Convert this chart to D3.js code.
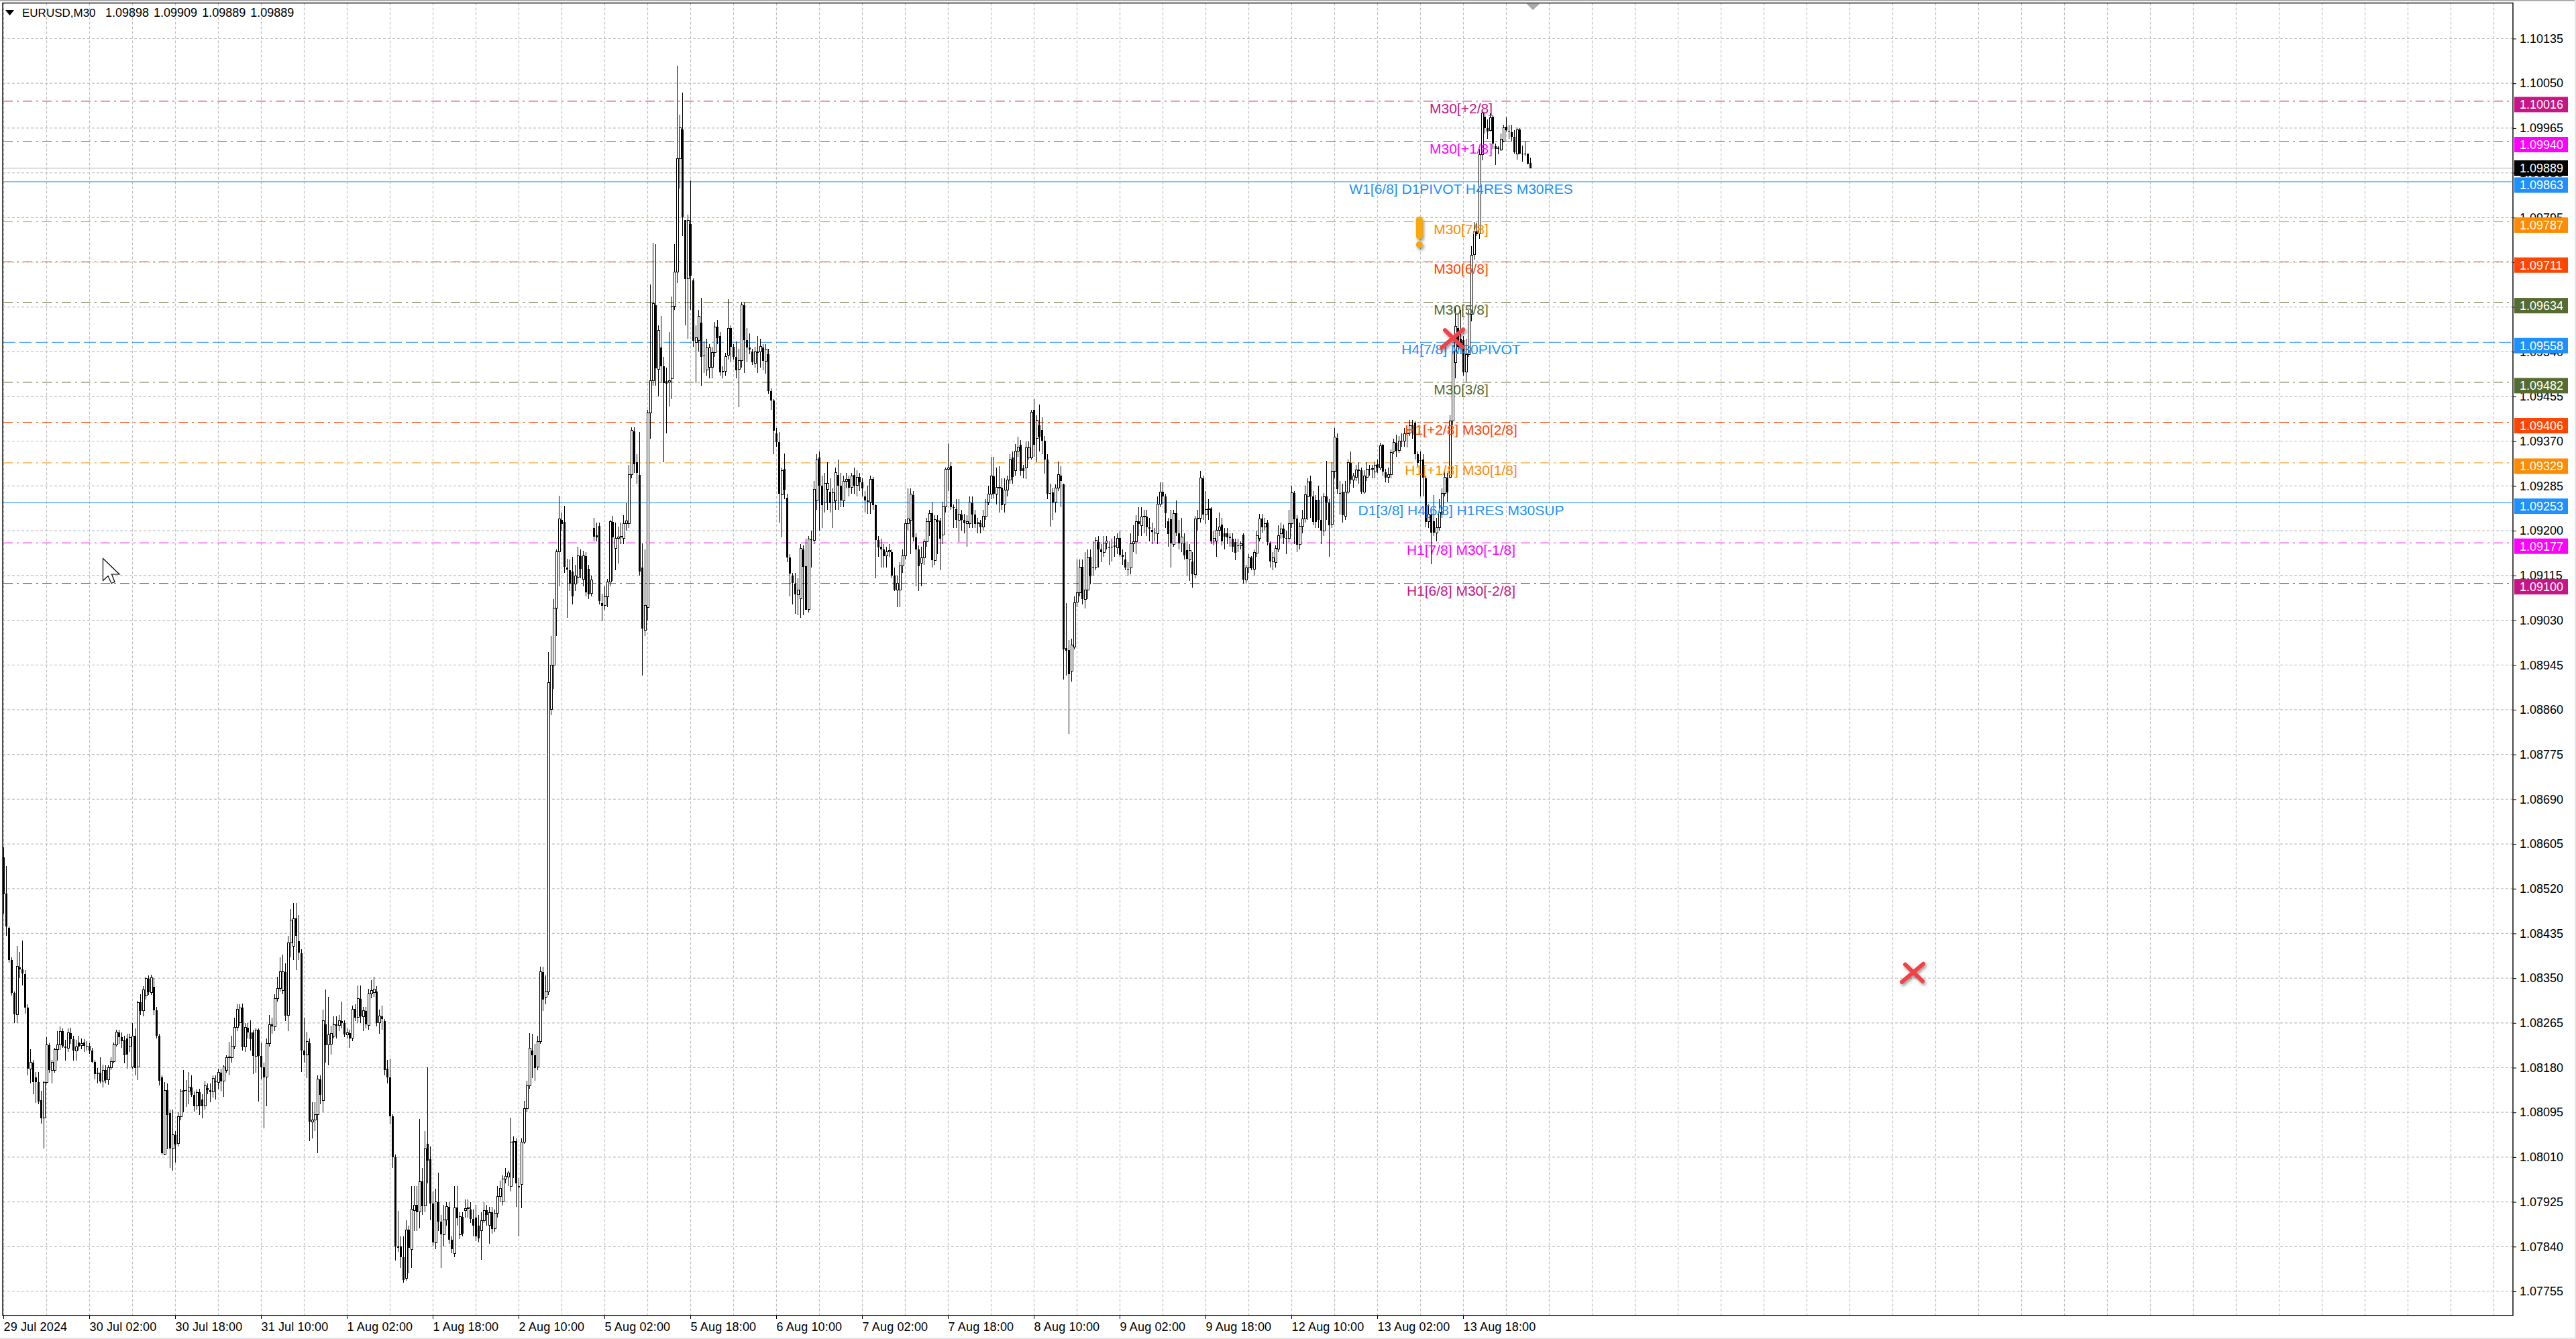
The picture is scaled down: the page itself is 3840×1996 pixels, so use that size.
<!DOCTYPE html>
<html>
<head>
<meta charset="utf-8">
<script src="https://cdn.jsdelivr.net/npm/d3@7"></script>
<style>
html, body { margin: 0; padding: 0; background: #fff; }
svg { display: block; }
text { font-family: "Liberation Sans", sans-serif; }
</style>
</head>
<body>
<script>
// M30 candles, prices in 1e-5 units
let opens = [
108579,108511,108446,108385,108322,108281,108370,108367,108358,108294,
108178,108190,108162,108152,108118,108084,108152,108223,108175,108175,
108215,108223,108250,108220,108217,108246,108234,108212,108228,108222,
108228,108221,108221,108212,108191,108171,108171,108154,108175,108157,
108180,108191,108223,108247,108238,108233,108235,108221,108181,108240,
108181,108304,108288,108317,108349,108323,108333,108289,108241,108162,
108016,108137,108094,108026,108052,108036,108087,108135,108137,108136,
108143,108129,108107,108133,108120,108107,108141,108137,108134,108154,
108152,108171,108155,108175,108199,108199,108221,108257,108265,108294,
108219,108256,108247,108247,108202,108252,108202,108181,108162,108226,
108262,108258,108311,108330,108327,108362,108279,108417,108411,108463,
108420,108397,108213,108204,108227,108077,108080,108091,108158,108118,
108262,108223,108225,108240,108262,108260,108269,108265,108243,108246,
108236,108291,108275,108311,108277,108288,108260,108320,108323,108325,
108265,108278,108268,108178,108162,108087,108010,107841,107840,107820,
107780,107872,107835,107909,107919,107906,107964,107917,108036,108006,
107922,107848,107925,107887,107863,107891,107916,107853,107827,107914,
107863,107897,107908,107912,107910,107893,107895,107880,107870,107890,
107909,107880,107905,107874,107903,107935,107925,107969,107972,107955,
108039,108040,107955,107958,108039,108102,108146,108213,108204,108181,
108230,108362,108314,108324,108860,108945,109053,109160,109221,109217,
109130,109125,109123,109099,109111,109152,109108,109152,109127,109081,
109205,109191,109209,109062,109058,109075,109103,109217,109166,109186,
109188,109185,109213,109214,109306,109389,109330,109306,109130,109011,
109054,109424,109485,109629,109507,109548,109512,109485,109483,109489,
109627,109692,109907,109962,109790,109679,109783,109676,109558,109562,
109595,109533,109505,109510,109510,109538,109587,109570,109504,109503,
109534,109585,109550,109530,109507,109523,109629,109562,109548,109540,
109518,109540,109540,109548,109522,109535,109465,109448,109385,109369,
109268,109318,109263,109149,109115,109099,109079,109071,109164,109133,
109050,109184,109182,109257,109339,109286,109253,109278,109274,109253,
109257,109306,109286,109257,109294,109298,109282,109306,109286,109302,
109292,109265,109257,109255,109298,109249,109182,109170,109164,109152,
109160,109160,109115,109087,109087,109133,109152,109213,109220,109268,
109187,109164,109138,109148,109179,109217,109233,109144,109221,109219,
109192,109245,109317,109323,109245,109241,109220,109231,109220,109214,
109214,109253,109231,109213,109214,109207,109228,109255,109270,109304,
109270,109282,109282,109250,109277,109296,109339,109314,109351,109363,
109319,109319,109339,109339,109430,109375,109400,109391,109371,109335,
109272,109273,109254,109281,109305,109288,108977,108973,108933,108979,
109064,109082,109131,109070,109088,109150,109131,109131,109179,109164,
109159,109176,109168,109170,109172,109168,109186,109154,109145,109128,
109130,109175,109179,109218,109210,109226,109227,109207,109202,109197,
109195,109251,109274,109265,109218,109222,109174,109233,109195,109176,
109176,109163,109145,109141,109117,109223,109224,109300,109230,109240,
109242,109180,109180,109201,109212,109195,109195,109189,109185,109178,
109172,109172,109192,109107,109129,109149,109127,109158,109185,109223,
109207,109215,109176,109141,109140,109165,109194,109204,109186,109185,
109213,109271,109223,109174,109208,109222,109265,109294,109265,109259,
109259,109220,109200,109265,109254,109212,109313,109376,109272,109274,
109228,109274,109329,109297,109302,109316,109315,109273,109302,109318,
109317,109312,109326,109320,109363,109311,109301,109307,109350,109367,
109352,109371,109370,109384,109385,109400,109405,109345,109334,109335,
109300,109218,109231,109218,109196,109206,109231,109271,109301,109301,
109409,109520,109585,109565,109562,109501,109535,109611,109724,109768,
109766,109914,109986,109965,109960,109987,109931,109928,109923,109940,
109967,109960,109957,109948,109916,109962,109916,109916,109916,109898
]

let highs = [
108599,108563,108448,108390,108325,108411,108400,108421,108365,108300,
108215,108195,108172,108172,108136,108155,108238,108226,108195,108218,
108249,108259,108255,108233,108254,108256,108240,108233,108240,108236,
108234,108230,108226,108217,108195,108180,108200,108186,108185,108185,
108200,108228,108252,108252,108247,108240,108245,108245,108265,108255,
108307,108320,108335,108352,108355,108356,108350,108295,108245,108165,
108152,108150,108100,108100,108060,108095,108140,108175,108157,108172,
108165,108135,108138,108140,108130,108155,108150,108150,108165,108165,
108178,108178,108184,108204,108229,108240,108275,108300,108300,108302,
108265,108265,108270,108252,108255,108255,108226,108190,108235,108280,
108275,108320,108353,108390,108395,108378,108430,108482,108493,108493,
108470,108405,108275,108248,108235,108115,108115,108165,108165,108290,
108328,108315,108260,108277,108277,108280,108305,108270,108255,108252,
108298,108300,108336,108336,108295,108295,108330,108346,108353,108335,
108290,108298,108272,108195,108197,108092,108015,107908,107859,107860,
107890,107880,107955,107955,107955,108083,107990,108060,108181,108030,
107945,107950,107980,107900,107920,107925,107925,107860,107955,107955,
107905,107905,107930,107930,107925,107910,107920,107900,107905,107925,
107920,107915,107915,107910,107955,107965,107975,107990,107985,108085,
108050,108045,107970,108045,108117,108155,108246,108245,108225,108240,
108372,108372,108355,108970,109000,109070,109165,109266,109235,109247,
109147,109145,109150,109135,109170,109165,109162,109160,109135,109115,
109225,109215,109215,109080,109095,109108,109221,109228,109215,109208,
109215,109230,109253,109325,109396,109396,109345,109388,109176,109165,
109430,109668,109747,109745,109590,109608,109530,109510,109578,109645,
109745,110084,109990,110032,109790,109800,109865,109680,109590,109620,
109642,109560,109565,109555,109550,109597,109600,109578,109512,109538,
109640,109590,109555,109560,109545,109635,109633,109585,109575,109545,
109550,109570,109565,109555,109555,109545,109470,109450,109395,109387,
109320,109347,109270,109155,109120,109120,109110,109175,109172,109185,
109190,109200,109295,109345,109350,109305,109310,109330,109300,109280,
109320,109335,109310,109305,109310,109305,109310,109320,109315,109310,
109300,109275,109285,109305,109302,109250,109190,109185,109175,109170,
109175,109165,109130,109115,109140,109165,109222,109280,109280,109275,
109195,109172,109170,109185,109225,109240,109255,109230,109230,109225,
109255,109320,109366,109330,109250,109260,109260,109240,109232,109230,
109265,109265,109240,109225,109220,109240,109260,109285,109340,109340,
109320,109322,109300,109300,109305,109345,109350,109365,109378,109372,
109325,109370,109370,109430,109450,109420,109440,109415,109380,109345,
109290,109282,109288,109332,109322,109290,109063,108992,108995,109075,
109145,109146,109145,109160,109164,109165,109180,109188,109190,109175,
109190,109190,109180,109185,109190,109195,109200,109165,109160,109140,
109195,109210,109230,109245,109245,109240,109240,109225,109215,109205,
109265,109292,109292,109270,109225,109240,109240,109258,109220,109225,
109195,109180,109175,109160,109228,109240,109313,109305,109275,109260,
109245,109200,109225,109235,109225,109205,109205,109195,109195,109185,
109185,109180,109195,109135,109155,109152,109165,109200,109232,109232,
109225,109220,109180,109160,109172,109210,109215,109212,109200,109240,
109285,109275,109230,109215,109240,109285,109300,109305,109275,109268,
109285,109265,109272,109333,109260,109330,109395,109385,109295,109290,
109295,109335,109350,109310,109325,109330,109320,109315,109330,109325,
109325,109332,109335,109367,109365,109318,109320,109355,109375,109382,
109380,109385,109395,109395,109410,109410,109408,109350,109350,109345,
109305,109250,109245,109268,109225,109260,109280,109315,109310,109420,
109550,109625,109610,109619,109570,109565,109620,109740,109786,109785,
109925,110000,109993,109982,109993,109990,109935,109931,109955,109971,
109985,109971,109971,109961,109966,109965,109932,109939,109916,109909
]

let lows = [
108472,108430,108379,108317,108265,108265,108350,108336,108283,108165,
108150,108130,108113,108111,108074,108026,108150,108170,108150,108170,
108194,108214,108218,108194,108210,108225,108194,108194,108212,108215,
108210,108212,108206,108190,108158,108150,108150,108143,108150,108147,
108175,108188,108220,108225,108217,108188,108178,108210,108178,108165,
108156,108280,108278,108310,108318,108318,108280,108235,108146,108015,
108014,108025,107990,107984,108000,108030,108080,108095,108105,108110,
108125,108097,108100,108090,108084,108100,108130,108115,108123,108120,
108140,108135,108125,108170,108165,108190,108215,108250,108260,108212,
108210,108235,108213,108168,108170,108116,108158,108065,108107,108220,
108245,108250,108305,108325,108320,108268,108250,108390,108385,108365,
108385,108172,108190,108160,108040,108045,108060,108017,108110,108095,
108190,108185,108205,108235,108235,108250,108255,108238,108235,108217,
108230,108268,108265,108265,108250,108255,108252,108312,108315,108258,
108245,108252,108165,108150,108072,107990,107813,107830,107800,107772,
107775,107790,107800,107870,107870,107875,107900,107905,107960,107890,
107840,107835,107870,107800,107840,107880,107845,107828,107820,107880,
107855,107860,107895,107895,107885,107860,107850,107848,107815,107885,
107880,107845,107865,107868,107895,107925,107918,107960,107955,107945,
107970,107915,107860,107913,108035,108095,108140,108160,108155,108175,
108225,108288,108300,108318,108850,108900,109000,109095,109200,109120,
109034,109085,109060,109085,109100,109110,109095,109075,109070,109075,
109180,109180,109060,109028,109050,109055,109095,109105,109125,109138,
109175,109175,109200,109205,109300,109310,109290,109115,108925,109000,
109030,109375,109475,109475,109455,109480,109330,109385,109436,109450,
109620,109670,109850,109760,109590,109565,109620,109550,109480,109540,
109475,109500,109495,109490,109490,109530,109555,109495,109490,109495,
109525,109520,109525,109490,109435,109510,109500,109520,109535,109515,
109510,109500,109510,109505,109498,109460,109430,109345,109360,109215,
109188,109260,109140,109075,109060,109042,109040,109035,109040,109050,
109045,109130,109175,109240,109200,109205,109235,109240,109235,109205,
109240,109240,109245,109245,109280,109265,109270,109270,109265,109275,
109265,109235,109232,109232,109240,109110,109150,109130,109130,109130,
109150,109110,109085,109055,109055,109120,109145,109200,109155,109180,
109095,109085,109095,109135,109170,109190,109130,109135,109155,109125,
109175,109235,109275,109240,109205,109205,109178,109200,109195,109170,
109205,109205,109205,109195,109195,109200,109220,109248,109260,109262,
109250,109235,109240,109235,109265,109290,109290,109305,109340,109305,
109300,109298,109335,109335,109340,109330,109350,109345,109308,109260,
109208,109220,109235,109275,109245,108917,108925,108814,108913,108975,
109055,109075,109060,109052,109070,109098,109115,109125,109130,109140,
109150,109165,109135,109142,109150,109155,109150,109135,109125,109115,
109118,109160,109155,109190,109190,109195,109190,109180,109175,109180,
109175,109245,109250,109205,109170,109130,109170,109190,109165,109160,
109145,109115,109105,109092,109110,109200,109215,109220,109213,109220,
109175,109172,109150,109190,109172,109165,109175,109170,109160,109144,
109160,109165,109100,109100,109120,109125,109115,109150,109180,109197,
109200,109172,109130,109125,109130,109160,109185,109175,109156,109178,
109205,109175,109160,109165,109195,109215,109220,109225,109210,109205,
109205,109175,109190,109220,109151,109205,109300,109270,109231,109216,
109220,109270,109290,109282,109295,109290,109270,109270,109295,109305,
109300,109300,109310,109315,109305,109292,109291,109300,109345,109340,
109348,109360,109360,109358,109380,109375,109335,109322,109265,109265,
109207,109205,109137,109190,109180,109200,109225,109265,109255,109300,
109400,109490,109535,109535,109495,109483,109530,109598,109715,109760,
109755,109904,109955,109945,109958,109925,109895,109915,109922,109938,
109958,109944,109940,109916,109905,109915,109901,109912,109896,109889
]

let closes = [
108510,108448,108385,108322,108281,108372,108367,108359,108294,108178,
108190,108152,108152,108116,108084,108152,108223,108175,108190,108215,
108223,108249,108220,108217,108246,108234,108212,108219,108220,108226,
108222,108220,108212,108191,108168,108168,108154,108175,108157,108180,
108191,108223,108247,108238,108230,108204,108205,108238,108240,108180,
108304,108288,108328,108349,108323,108351,108289,108241,108155,108018,
108137,108090,108026,108052,108034,108087,108135,108137,108136,108143,
108129,108107,108133,108107,108107,108146,108137,108133,108160,108152,
108171,108154,108181,108199,108201,108221,108257,108291,108294,108219,
108256,108247,108234,108202,108252,108202,108181,108162,108226,108262,
108258,108311,108330,108362,108362,108279,108417,108460,108463,108430,
108398,108213,108204,108230,108077,108080,108091,108158,108128,108269,
108223,108242,108245,108262,108260,108269,108265,108243,108246,108236,
108291,108275,108311,108277,108288,108262,108320,108326,108329,108265,
108278,108272,108175,108162,108087,108010,107841,107838,107820,107777,
107872,107838,107911,107919,107906,107963,107917,108026,108003,107922,
107848,107925,107887,107863,107891,107916,107853,107835,107914,107894,
107897,107865,107912,107915,107893,107880,107860,107856,107890,107909,
107900,107905,107874,107903,107935,107950,107969,107973,107980,108039,
108040,107960,107953,108039,108102,108146,108217,108204,108180,108230,
108362,108310,108324,108912,108945,109053,109160,109222,109213,109131,
109126,109099,109075,109114,109152,109127,109153,109083,109079,109107,
109189,109187,109067,109058,109075,109103,109217,109188,109186,109188,
109190,109213,109219,109306,109391,109326,109310,109123,109014,109058,
109424,109485,109631,109509,109580,109513,109481,109479,109485,109627,
109692,109907,109966,109796,109678,109790,109684,109561,109566,109607,
109530,109531,109548,109548,109538,109587,109566,109501,109501,109531,
109585,109550,109530,109505,109523,109629,109562,109548,109544,109520,
109540,109538,109550,109522,109545,109465,109448,109390,109369,109270,
109314,109278,109149,109119,109101,109079,109088,109166,109131,109050,
109184,109182,109278,109335,109286,109249,109290,109290,109253,109272,
109310,109286,109257,109294,109298,109282,109304,109286,109302,109292,
109280,109257,109255,109298,109249,109182,109168,109164,109152,109160,
109163,109115,109088,109100,109133,109152,109213,109222,109270,109187,
109164,109133,109148,109179,109217,109233,109144,109221,109217,109185,
109245,109317,109320,109245,109243,109220,109231,109220,109214,109217,
109255,109231,109213,109216,109206,109228,109255,109270,109304,109270,
109282,109283,109249,109277,109296,109335,109302,109351,109359,109314,
109314,109357,109357,109425,109363,109410,109378,109371,109335,109270,
109270,109254,109281,109307,109295,108974,108972,108927,108983,109063,
109082,109131,109070,109088,109149,109113,109130,109182,109165,109159,
109176,109180,109167,109168,109170,109185,109154,109150,109130,109127,
109175,109179,109218,109213,109226,109228,109207,109204,109198,109195,
109251,109274,109265,109233,109194,109176,109233,109197,109176,109188,
109153,109147,109162,109117,109223,109224,109300,109231,109240,109242,
109180,109185,109201,109207,109180,109189,109188,109186,109170,109158,
109171,109175,109107,109130,109149,109129,109159,109191,109223,109207,
109213,109179,109142,109149,109166,109191,109204,109186,109185,109213,
109272,109222,109173,109208,109222,109268,109292,109265,109217,109217,
109220,109200,109265,109254,109210,109313,109378,109279,109271,109229,
109274,109330,109297,109304,109315,109314,109274,109304,109317,109316,
109318,109325,109320,109362,109312,109301,109307,109349,109368,109352,
109370,109370,109384,109385,109400,109399,109345,109329,109333,109301,
109217,109231,109197,109197,109206,109235,109271,109301,109273,109409,
109540,109588,109550,109550,109501,109535,109611,109723,109768,109764,
109914,109993,109965,109959,109984,109935,109925,109925,109944,109966,
109961,109958,109948,109919,109962,109916,109915,109915,109897,109889
]

let priceTicks = [
1.10135,1.10050,1.09965,1.09880,1.09795,1.09710,1.09625,1.09540,1.09455,1.09370,
1.09285,1.09200,1.09115,1.09030,1.08945,1.08860,1.08775,1.08690,1.08605,1.08520,
1.08435,1.08350,1.08265,1.08180,1.08095,1.08010,1.07925,1.07840,1.07755
]

let timeLabels = [
"29 Jul 2024","30 Jul 02:00","30 Jul 18:00","31 Jul 10:00","1 Aug 02:00","1 Aug 18:00",
"2 Aug 10:00","5 Aug 02:00","5 Aug 18:00","6 Aug 10:00","7 Aug 02:00","7 Aug 18:00",
"8 Aug 10:00","9 Aug 02:00","9 Aug 18:00","12 Aug 10:00","13 Aug 02:00","13 Aug 18:00"
]

let levelPrices = [1.10016,1.09940,1.09863,1.09787,1.09711,1.09634,1.09558,1.09482,1.09406,1.09329,1.09253,1.09177,1.09100]
let levelColors = ["#c71585","#ff00ff","#1e90ff","#ff8c00","#ff4500","#556b2f","#1e90ff","#556b2f","#ff4500","#ff8c00","#1e90ff","#ff00ff","#c71585"]
let levelKinds = ["dashdot","dashdot","solid","dashdot","dashdot","dashdot","dash","dashdot","dashdot","dashdot","solid","dashdot","dashdot"]
let levelLabels = [
"M30[+2/8]","M30[+1/8]","W1[6/8] D1PIVOT H4RES M30RES","M30[7/8]","M30[6/8]","M30[5/8]",
"H4[7/8] M30PIVOT","M30[3/8]","H1[+2/8] M30[2/8]","H1[+1/8] M30[1/8]",
"D1[3/8] H4[6/8] H1RES M30SUP","H1[7/8] M30[-1/8]","H1[6/8] M30[-2/8]"
]

let symbolName = "EURUSD,M30"
let lastBar = "1.09898 1.09909 1.09889 1.09889"
let bid = 1.09889
let gridBars = 16    // vertical grid every 16 bars
let labelBars = 32   // time label every 32 bars
let crossMarks = [{bar: 540, price: 1.09567}, {bar: 711.5, price: 1.08362}]
let alertMark = {bar: 527.7, price: 1.09797}

let w = 3840
let h = 1996
let frameL = 4
let frameT = 4.5
let frameR = 3746
let frameB = 1961
let dashes = {dashdot: "14 6 3 6", dash: "18 6", solid: null}

let candles = d3.range(closes.length).map(i => ({
    i: i, o: opens[i] / 1e5, h: highs[i] / 1e5, l: lows[i] / 1e5, c: closes[i] / 1e5
}))

// 4px a bar
let x = d3.scaleLinear().domain([0, 1]).range([5, 9])
let y = d3.scaleLinear().domain([1.10135, 1.07755]).range([57.5, 1925])

let svg = d3.select("body")
    .append("svg")
    .attr("width", w)
    .attr("height", h)

// window edges
svg.append("rect").attr("x", 0).attr("y", 0).attr("width", w).attr("height", 1.5).attr("fill", "#a0a0a0")
svg.append("rect").attr("x", 3838).attr("y", 0).attr("width", 2).attr("height", h).attr("fill", "#e4e4e4")
svg.append("rect").attr("x", 0).attr("y", 1994).attr("width", w).attr("height", 2).attr("fill", "#e4e4e4")

// grid
let gridX = d3.range(0, (frameR - 5) / 4, gridBars)

svg.selectAll(".gx")
    .data(gridX)
    .enter()
    .append("line")
    .attr("class", "gx")
    .attr("x1", d => x(d) + 0.5)
    .attr("x2", d => x(d) + 0.5)
    .attr("y1", frameT)
    .attr("y2", frameB)
    .attr("stroke", "#c0c0c0")
    .attr("stroke-width", 1.2)
    .attr("stroke-dasharray", "4 3")

svg.selectAll(".gy")
    .data(priceTicks)
    .enter()
    .append("line")
    .attr("class", "gy")
    .attr("x1", frameL)
    .attr("x2", frameR)
    .attr("y1", d => y(d))
    .attr("y2", d => y(d))
    .attr("stroke", "#c0c0c0")
    .attr("stroke-width", 1.2)
    .attr("stroke-dasharray", "4 3")

// bid line
svg.append("line")
    .attr("x1", frameL)
    .attr("x2", frameR)
    .attr("y1", y(bid))
    .attr("y2", y(bid))
    .attr("stroke", "#c0c0c0")
    .attr("stroke-width", 1.2)

// level lines
svg.selectAll(".level")
    .data(levelPrices)
    .enter()
    .append("line")
    .attr("class", "level")
    .attr("x1", 5)
    .attr("x2", frameR - 2)
    .attr("y1", d => y(d))
    .attr("y2", d => y(d))
    .attr("stroke", (d, i) => levelColors[i])
    .attr("stroke-width", 1)
    .attr("stroke-dasharray", (d, i) => dashes[levelKinds[i]])

// candles
let bars = svg.append("g").attr("shape-rendering", "crispEdges")

bars.selectAll(".wick")
    .data(candles)
    .enter()
    .append("line")
    .attr("class", "wick")
    .attr("x1", d => x(d.i) + 0.5)
    .attr("x2", d => x(d.i) + 0.5)
    .attr("y1", d => y(d.h))
    .attr("y2", d => y(d.l))
    .attr("stroke", "#000")

bars.selectAll(".body")
    .data(candles)
    .enter()
    .append("rect")
    .attr("class", "body")
    .attr("x", d => x(d.i) - 1)
    .attr("width", 3)
    .attr("y", d => y(Math.max(d.o, d.c)))
    .attr("height", d => Math.max(1, Math.abs(y(d.o) - y(d.c))))
    .attr("fill", d => d.c >= d.o ? "#fff" : "#000")
    .attr("stroke", d => d.c >= d.o ? "#000" : "none")

// frame
svg.append("rect")
    .attr("x", frameL)
    .attr("y", frameT)
    .attr("width", frameR - frameL)
    .attr("height", frameB - frameT)
    .attr("fill", "none")
    .attr("stroke", "#000")
    .attr("stroke-width", 1.4)

// axes
let yAxis = d3.axisRight(y)
    .tickValues(priceTicks)
    .tickFormat(d => d.toFixed(5))
    .tickSize(5)
    .tickPadding(5)

let yG = svg.append("g")
    .attr("transform", `translate(${frameR},0)`)
    .call(yAxis)
yG.select(".domain").remove()

let xAxis = d3.axisBottom(x)
    .tickValues(timeLabels.map((d, i) => i * labelBars))
    .tickFormat((d, i) => timeLabels[i])
    .tickSize(5)
    .tickPadding(5)

let xG = svg.append("g")
    .attr("transform", `translate(0,${frameB})`)
    .call(xAxis)
xG.select(".domain").remove()

svg.selectAll("g.tick text")
    .attr("font-family", "Liberation Sans")
    .attr("font-size", 18)
    .attr("fill", "#000")
svg.selectAll("g.tick line").attr("stroke", "#000")

xG.selectAll("text")
    .attr("text-anchor", "start")
    .attr("letter-spacing", 0.15)

// right side price tags
let tags = [{price: bid, color: "#000", off: 0}].concat(
    levelPrices.map((d, i) => ({price: d, color: levelColors[i], off: 5}))
)

tags.forEach(d => {
    svg.append("rect")
        .attr("x", 3748)
        .attr("y", y(d.price) + d.off - 11.5)
        .attr("width", 80)
        .attr("height", 23)
        .attr("fill", d.color)
    svg.append("text")
        .text(d.price.toFixed(5))
        .attr("x", 3756)
        .attr("y", y(d.price) + d.off + 6.5)
        .attr("font-size", 18)
        .attr("fill", "#fff")
})

// level labels
svg.selectAll(".label")
    .data(levelLabels)
    .enter()
    .append("text")
    .attr("class", "label")
    .text(d => d)
    .attr("x", 2178)
    .attr("y", (d, i) => y(levelPrices[i]) + 18)
    .attr("text-anchor", "middle")
    .attr("font-size", 21)
    .attr("fill", (d, i) => levelColors[i])

// chart markers
let shadow = "drop-shadow(2px 3px 2px rgba(0,0,0,0.4))"

svg.selectAll(".cross")
    .data(crossMarks)
    .enter()
    .append("path")
    .attr("class", "cross")
    .attr("transform", d => `translate(${x(d.bar)},${y(d.price)})`)
    .attr("d", "M-16,15L16,-12M-11,-11L15,14")
    .attr("fill", "none")
    .attr("stroke", "#f44046")
    .attr("stroke-width", 6)
    .attr("stroke-linecap", "round")
    .style("filter", shadow)

let alertG = svg.append("g")
    .attr("transform", `translate(${x(alertMark.bar)},${y(alertMark.price)})`)
    .style("filter", shadow)
alertG.append("rect")
    .attr("x", -5)
    .attr("y", 0)
    .attr("width", 10)
    .attr("height", 34)
    .attr("rx", 5)
    .attr("fill", "#f9a80a")
alertG.append("circle")
    .attr("cx", 0)
    .attr("cy", 42)
    .attr("r", 5)
    .attr("fill", "#f9a80a")

// header
svg.append("path").attr("d", "M8,15L21,15L14.5,23Z").attr("fill", "#000")
svg.append("text").text(symbolName).attr("x", 33).attr("y", 25).attr("font-size", 17).attr("fill", "#000")
svg.append("text").text(lastBar).attr("x", 157).attr("y", 25).attr("font-size", 18).attr("word-spacing", 2).attr("fill", "#000")

// chart shift marker
svg.append("path").attr("d", "M2275,5L2296,5L2285,15Z").attr("fill", "#aaa")

// mouse pointer
svg.append("path")
    .attr("d", "M153.5,832.5L178,856L166.5,856L171,867.5L166,869.5L161,858.5L153.5,865.5Z")
    .attr("fill", "#fff")
    .attr("stroke", "#000")
    .attr("stroke-width", 1.2)
</script>
</body>
</html>
